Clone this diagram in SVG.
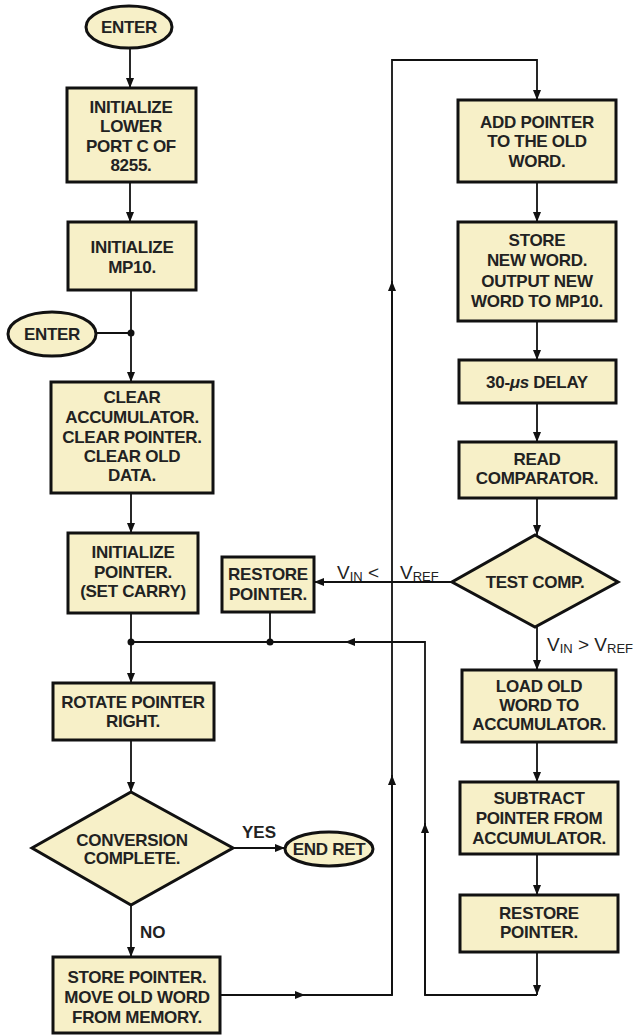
<svg xmlns="http://www.w3.org/2000/svg" width="635" height="1035" viewBox="0 0 635 1035">
<defs>
<marker id="arr" markerUnits="userSpaceOnUse" markerWidth="10" markerHeight="10" viewBox="0 0 10 10" refX="10" refY="5" orient="auto">
<path d="M0,1 L10,5 L0,9 Z" fill="#111"/>
</marker>
</defs>
<style>
.box{fill:#f7f0c8;stroke:#111;stroke-width:3}
.t{font-family:"Liberation Sans",Arial,sans-serif;font-weight:bold;font-size:17px;letter-spacing:-0.3px;fill:#222;text-anchor:middle}
.lbl{font-family:"Liberation Sans",Arial,sans-serif;font-size:19px;fill:#222}
.sub{font-size:13px}
.yn{font-family:"Liberation Sans",Arial,sans-serif;font-size:17px;font-weight:bold;fill:#222}
.c{fill:none;stroke:#111;stroke-width:1.8}
.a{fill:none;stroke:#111;stroke-width:1.8;marker-end:url(#arr)}
.dot{fill:#111}
</style>
<rect width="635" height="1035" fill="#fff"/>

<g id="connectors">
<path class="a" d="M130,49 V88"/>
<path class="a" d="M130,182 V222"/>
<path class="a" d="M131,290 V382"/>
<path class="c" d="M97,333 H131"/>
<circle class="dot" cx="131" cy="333" r="3.5"/>
<path class="a" d="M131,493 V533"/>
<path class="a" d="M131,613 V683"/>
<circle class="dot" cx="131" cy="642" r="3.5"/>
<path class="a" d="M131,740 V792"/>
<path class="a" d="M233,848 H285"/>
<path class="a" d="M131,905 V957"/>
<path class="a" d="M220,995 H305"/>
<path class="c" d="M303,995 H392 V60 H537 V100"/>
<path class="a" d="M392,995 V775"/>
<path class="a" d="M392,500 V281"/>
<path class="a" d="M537,90 V100"/>
<path class="a" d="M537,182 V222"/>
<path class="a" d="M537,321 V360"/>
<path class="a" d="M537,403 V442"/>
<path class="a" d="M537,498 V535"/>
<path class="a" d="M452,582 H314"/>
<path class="c" d="M270,612 V642"/>
<circle class="dot" cx="270" cy="642" r="3.5"/>
<path class="a" d="M537,627 V670"/>
<path class="a" d="M537,742 V782"/>
<path class="a" d="M537,854 V895"/>
<path class="a" d="M537,952 V995"/>
<path class="c" d="M537,995 H425 V642 H131"/>
<path class="a" d="M425,995 V823"/>
<path class="a" d="M425,642 H345"/>
<text class="lbl" x="337" y="579">V<tspan class="sub" dy="2">IN</tspan><tspan dy="-2"> &lt;</tspan></text>
<text class="lbl" x="400" y="579">V<tspan class="sub" dy="2">REF</tspan></text>
<text class="lbl" x="547" y="651">V<tspan class="sub" dy="2">IN</tspan><tspan dy="-2"> &gt; V</tspan><tspan class="sub" dy="2">REF</tspan></text>
<text class="yn" x="242" y="838">YES</text>
<text class="yn" x="140" y="938">NO</text>
</g>

<g id="enter1">
<ellipse class="box" cx="129" cy="27" rx="43" ry="21"/>
<text class="t" x="129" y="33">ENTER</text>
</g>
<g id="init-port">
<rect class="box" x="67" y="88" width="129" height="94"/>
<text class="t" x="131" y="113">INITIALIZE</text>
<text class="t" x="131" y="132">LOWER</text>
<text class="t" x="131" y="152">PORT C OF</text>
<text class="t" x="131" y="171">8255.</text>
</g>
<g id="init-mp10">
<rect class="box" x="68" y="222" width="128" height="68"/>
<text class="t" x="132" y="253">INITIALIZE</text>
<text class="t" x="132" y="273">MP10.</text>
</g>
<g id="enter2">
<ellipse class="box" cx="52" cy="334" rx="44" ry="22"/>
<text class="t" x="52" y="340">ENTER</text>
</g>
<g id="clear">
<rect class="box" x="51" y="382" width="162" height="111"/>
<text class="t" x="132" y="403">CLEAR</text>
<text class="t" x="132" y="423">ACCUMULATOR.</text>
<text class="t" x="132" y="443">CLEAR POINTER.</text>
<text class="t" x="132" y="462">CLEAR OLD</text>
<text class="t" x="132" y="481">DATA.</text>
</g>
<g id="init-pointer">
<rect class="box" x="68" y="533" width="130" height="80"/>
<text class="t" x="133" y="558">INITIALIZE</text>
<text class="t" x="133" y="578">POINTER.</text>
<text class="t" x="133" y="597">(SET CARRY)</text>
</g>
<g id="restore-left">
<rect class="box" x="222" y="557" width="92" height="55"/>
<text class="t" x="268" y="580">RESTORE</text>
<text class="t" x="268" y="600">POINTER.</text>
</g>
<g id="rotate">
<rect class="box" x="53" y="683" width="161" height="57"/>
<text class="t" x="133" y="708">ROTATE POINTER</text>
<text class="t" x="133" y="727">RIGHT.</text>
</g>
<g id="conversion">
<polygon class="box" points="131,792 233,848 131,905 32,848"/>
<text class="t" x="132" y="846">CONVERSION</text>
<text class="t" x="132" y="864">COMPLETE.</text>
</g>
<g id="end-ret">
<ellipse class="box" cx="329" cy="849" rx="44" ry="17"/>
<text class="t" x="329" y="855">END RET</text>
</g>
<g id="store-pointer">
<rect class="box" x="53" y="957" width="167" height="76"/>
<text class="t" x="137" y="983">STORE POINTER.</text>
<text class="t" x="137" y="1003">MOVE OLD WORD</text>
<text class="t" x="137" y="1023">FROM MEMORY.</text>
</g>
<g id="add-pointer">
<rect class="box" x="458" y="100" width="158" height="82"/>
<text class="t" x="537" y="128">ADD POINTER</text>
<text class="t" x="537" y="147">TO THE OLD</text>
<text class="t" x="537" y="167">WORD.</text>
</g>
<g id="store-new">
<rect class="box" x="458" y="222" width="158" height="99"/>
<text class="t" x="537" y="246">STORE</text>
<text class="t" x="537" y="266">NEW WORD.</text>
<text class="t" x="537" y="287">OUTPUT NEW</text>
<text class="t" x="537" y="307">WORD TO MP10.</text>
</g>
<g id="delay">
<rect class="box" x="459" y="360" width="157" height="43"/>
<text class="t" x="537" y="388">30-<tspan font-style="italic">μs</tspan> DELAY</text>
</g>
<g id="read-comp">
<rect class="box" x="459" y="442" width="157" height="56"/>
<text class="t" x="537" y="465">READ</text>
<text class="t" x="537" y="484">COMPARATOR.</text>
</g>
<g id="test-comp">
<polygon class="box" points="535,535 618,582 535,627 452,582"/>
<text class="t" x="535" y="588">TEST COMP.</text>
</g>
<g id="load-old">
<rect class="box" x="462" y="670" width="154" height="72"/>
<text class="t" x="539" y="692">LOAD OLD</text>
<text class="t" x="539" y="711">WORD TO</text>
<text class="t" x="539" y="730">ACCUMULATOR.</text>
</g>
<g id="subtract">
<rect class="box" x="460" y="782" width="158" height="72"/>
<text class="t" x="539" y="804">SUBTRACT</text>
<text class="t" x="539" y="824">POINTER FROM</text>
<text class="t" x="539" y="844">ACCUMULATOR.</text>
</g>
<g id="restore-right">
<rect class="box" x="460" y="895" width="158" height="57"/>
<text class="t" x="539" y="919">RESTORE</text>
<text class="t" x="539" y="938">POINTER.</text>
</g>
</svg>
